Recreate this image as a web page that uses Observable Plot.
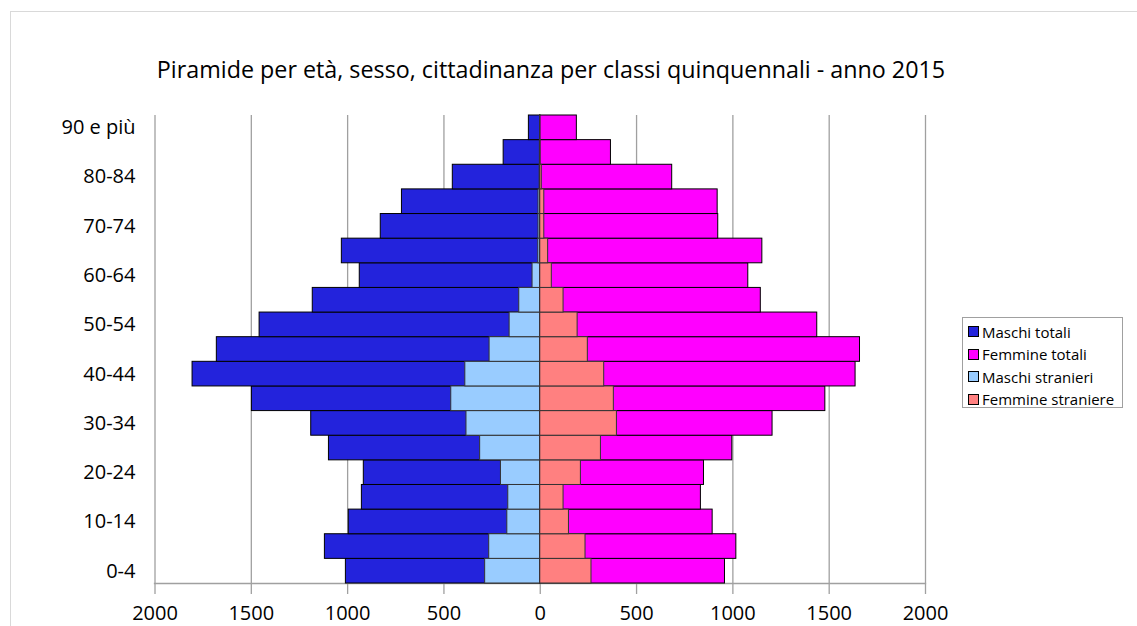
<!DOCTYPE html>
<html>
<head>
<meta charset="utf-8">
<script src="https://cdn.jsdelivr.net/npm/d3@7"></script>
<script src="https://cdn.jsdelivr.net/npm/@observablehq/plot@0.6"></script>
<style>
  html, body { margin: 0; padding: 0; background: #fff; overflow: hidden; }
  #wrap { position: relative; width: 1137px; height: 626px; overflow: hidden; font-family: "Open Sans", sans-serif; }
  #border { position: absolute; left: 10px; top: 11px; width: 1300px; height: 800px; border: 1px solid #d9d9d9; box-sizing: border-box; }
  #title { position: absolute; left: 0; width: 1102px; top: 53px; text-align: center; font-size: 23.3px; color: #000; white-space: nowrap; }
  #chart { position: absolute; left: 0; top: 0; }
  #legend { position: absolute; left: 962px; top: 317px; width: 161px; height: 91px; border: 1px solid #a0a0a0; box-sizing: border-box; background: #fff; padding: 2.5px 0 0 5px; }
  .item { height: 22.5px; line-height: 22.5px; font-size: 15px; white-space: nowrap; display: flex; align-items: center; }
  .sw { width: 9px; height: 9px; border: 1px solid #000; margin-right: 3px; flex: none; }
</style>
</head>
<body>
<div id="wrap">
  <div id="border"></div>
  <div id="chart"></div>
  <div id="title">Piramide per età, sesso, cittadinanza per classi quinquennali - anno 2015</div>
  <div id="legend"></div>
</div>
<script>
const ages = ["0-4","5-9","10-14","15-19","20-24","25-29","30-34","35-39","40-44","45-49","50-54","55-59","60-64","65-69","70-74","75-79","80-84","85-89","90 e più"];
const maschiTotali     = [1009,1118,994,926,916,1097,1189,1497,1805,1679,1457,1181,937,1030,828,718,454,190,59];
const femmineTotali    = [959,1018,895,834,850,997,1206,1480,1637,1660,1438,1145,1080,1153,924,921,685,367,190];
const maschiStranieri  = [286,265,171,166,204,312,383,462,389,263,159,109,40,10,9,9,3,2,1];
const femmineStraniere = [266,235,149,121,211,315,398,382,332,247,194,121,60,41,21,21,8,2,1];
const yTickLabels = ["0-4","10-14","20-24","30-34","40-44","50-54","60-64","70-74","80-84","90 e più"];
const xTicks = [-2000,-1500,-1000,-500,0,500,1000,1500,2000];
const seriesNames = ["Maschi totali","Femmine totali","Maschi stranieri","Femmine straniere"];
const seriesColors = ["#2323DC","#FF00FF","#99CCFF","#FF8080"];

const rows = ages.map((age, i) => ({
  age,
  mt: maschiTotali[i], ft: femmineTotali[i],
  ms: maschiStranieri[i], fs: femmineStraniere[i]
}));

const chart = Plot.plot({
  width: 1137,
  height: 626,
  marginLeft: 154,
  marginRight: 212,
  marginTop: 115,
  marginBottom: 43,
  style: { fontFamily: "Open Sans, sans-serif", fontSize: "20px", background: "transparent", color: "#000" },
  x: { domain: [-2000, 2000], range: [154.5, 925] },
  y: { domain: ages.slice().reverse(), padding: 0, round: false },
  marks: [
    Plot.ruleX(xTicks, { stroke: "#a0a0a0", strokeWidth: 1.3, insetBottom: -11 }),
    Plot.frame({ anchor: "bottom", stroke: "#a0a0a0", strokeWidth: 1.3 }),
    Plot.barX(rows, { y: "age", x1: d => -d.mt, x2: 0, fill: seriesColors[0], stroke: "#000", strokeWidth: 1 }),
    Plot.barX(rows, { y: "age", x1: d => -d.ms, x2: 0, fill: seriesColors[2], stroke: "#333", strokeWidth: 1 }),
    Plot.barX(rows, { y: "age", x1: 0, x2: d => d.ft, fill: seriesColors[1], stroke: "#000", strokeWidth: 1 }),
    Plot.barX(rows, { y: "age", x1: 0, x2: d => d.fs, fill: seriesColors[3], stroke: "#333", strokeWidth: 1 }),
    Plot.axisX({ ticks: xTicks, tickFormat: d => String(Math.abs(d)), tickSize: 0, tickPadding: 22, label: null, fontSize: 20 }),
    Plot.axisY({ ticks: yTickLabels, tickSize: 0, tickPadding: 19, label: null, fontSize: 20 })
  ]
});
document.getElementById("chart").appendChild(chart);

const legend = document.getElementById("legend");
seriesNames.forEach((name, i) => {
  const it = document.createElement("div");
  it.className = "item";
  const sw = document.createElement("span");
  sw.className = "sw";
  sw.style.background = seriesColors[i];
  const tx = document.createElement("span");
  tx.textContent = name;
  it.appendChild(sw); it.appendChild(tx);
  legend.appendChild(it);
});
</script>
</body>
</html>
